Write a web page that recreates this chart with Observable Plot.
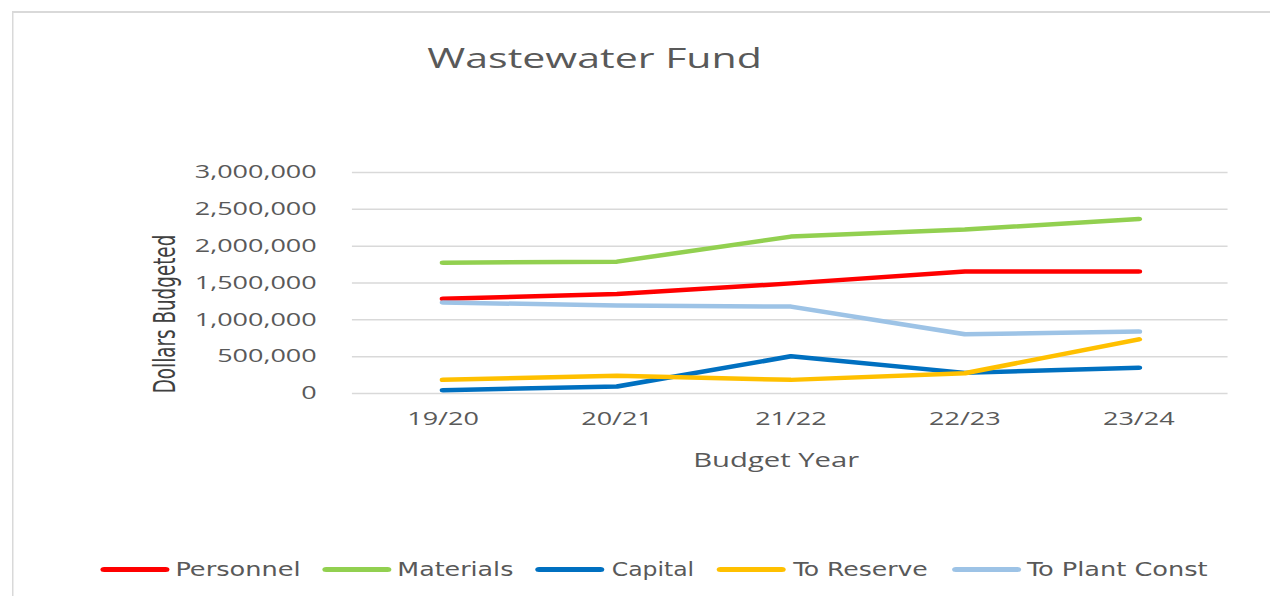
<!DOCTYPE html>
<html>
<head>
<meta charset="utf-8">
<script src="https://cdn.jsdelivr.net/npm/d3@7"></script>
<script src="https://cdn.jsdelivr.net/npm/@observablehq/plot@0.6"></script>
<style>
  html, body { margin: 0; padding: 0; background: #fff; overflow: hidden; }
  #stage {
    position: relative; width: 847px; height: 596px;
    transform: scale(1.4994, 1); transform-origin: 0 0;
    font-family: "Open Sans", sans-serif; color: #595959;
  }
  #frameTop { position: absolute; left: 8px; top: 11px; right: 0; height: 1.5px; background: #d9d9d9; }
  #frameLeft { position: absolute; left: 7.5px; top: 11px; bottom: 0; width: 1.3px; background: #d9d9d9; }
  #title { position: absolute; left: 285px; top: 44px; font-size: 27.4px; line-height: 1; white-space: nowrap; color: #595959; }
  #ylabel {
    position: absolute; left: 110px; top: 314px; white-space: nowrap;
    transform: translate(-50%, -50%) rotate(-90deg);
    font-family: "DejaVu Sans Condensed", "Liberation Sans Narrow", "Liberation Sans", sans-serif;
    font-size: 20.4px; line-height: 1; color: #404040;
  }
  #xlabel { position: absolute; left: 517.7px; top: 460px; transform: translate(-50%, -50%); font-size: 19.5px; line-height: 1; white-space: nowrap; color: #595959; }
  #chart { position: absolute; left: 0; top: 0; }
  #legend { position: absolute; left: 0; top: 0; width: 847px; height: 596px;
    font-family: "DejaVu Sans Condensed", "Liberation Sans Narrow", "Liberation Sans", sans-serif; font-size: 19px; color: #595959; }
  .sw { position: absolute; top: 566.5px; width: 46px; height: 5px; border-radius: 2.5px; }
  .lt { position: absolute; top: 569px; line-height: 1; white-space: nowrap; transform-origin: 0 50%; }
</style>
</head>
<body>
<div id="stage">
  <div id="frameTop"></div>
  <div id="frameLeft"></div>
  <div id="title"></div>
  <div id="ylabel"></div>
  <div id="xlabel"></div>
  <div id="chart"></div>
  <div id="legend"></div>
</div>
<script>
const titleText = "Wastewater Fund";
const yLabel = "Dollars Budgeted";
const xLabel = "Budget Year";
const years = ["19/20", "20/21", "21/22", "22/23", "23/24"];
const seriesNames = ["Personnel", "Materials", "Capital", "To Reserve", "To Plant Const"];
const seriesColors = ["#FF0000", "#92D050", "#0070C0", "#FFC000", "#9DC3E6"];
const personnel = [1285000, 1350000, 1495000, 1655000, 1655000];
const materials = [1775000, 1790000, 2130000, 2225000, 2370000];
const capital = [45000, 95000, 505000, 280000, 350000];
const toReserve = [185000, 240000, 185000, 275000, 735000];
const toPlantConst = [1235000, 1195000, 1180000, 805000, 840000];
const yTicks = [0, 500000, 1000000, 1500000, 2000000, 2500000, 3000000];

const seriesValues = [personnel, materials, capital, toReserve, toPlantConst];
const rows = [];
seriesNames.forEach((name, i) => {
  years.forEach((yr, j) => rows.push({series: name, year: yr, value: seriesValues[i][j]}));
});

document.getElementById("title").textContent = titleText;
document.getElementById("ylabel").textContent = yLabel;
document.getElementById("xlabel").textContent = xLabel;

const W = 847;
const chart = Plot.plot({
  width: W,
  height: 480,
  marginTop: 172,
  marginBottom: 87,
  marginLeft: 234.7,
  marginRight: W - 818.7,
  style: {fontFamily: "Open Sans, sans-serif", fontSize: "18px", color: "#595959", background: "transparent"},
  x: {type: "point", domain: years, padding: 0.5, label: null},
  y: {domain: [0, 3000000], label: null},
  color: {domain: seriesNames, range: seriesColors},
  marks: [
    Plot.gridY(yTicks, {stroke: "#d9d9d9", strokeOpacity: 1, strokeWidth: 1.5}),
    Plot.axisY({ticks: yTicks, tickSize: 0, tickPadding: 24, tickFormat: d3.format(","), label: null, fill: "#595959", fontSize: 18}),
    Plot.axisX({tickSize: 0, tickPadding: 19, label: null, fill: "#595959", fontSize: 18}),
    Plot.line(rows, {x: "year", y: "value", z: "series", stroke: "series", strokeWidth: 4.5, strokeLinecap: "round", strokeLinejoin: "round"})
  ]
});
document.getElementById("chart").appendChild(chart);

// legend layout (unscaled page px)
const swLeft = [67, 215, 357, 478, 635];
const txtLeft = [117, 265, 408, 529, 685];
const txtRight = [200, 342, 463, 619, 805];
const legend = document.getElementById("legend");
seriesNames.forEach((name, i) => {
  const sw = document.createElement("div");
  sw.className = "sw";
  sw.style.left = swLeft[i] + "px";
  sw.style.background = seriesColors[i];
  legend.appendChild(sw);
  const t = document.createElement("span");
  t.className = "lt";
  t.textContent = name;
  t.style.left = txtLeft[i] + "px";
  legend.appendChild(t);
  const w = t.offsetWidth;
  const target = txtRight[i] - txtLeft[i];
  t.style.transform = `translateY(-50%) scaleX(${target / w})`;
});
</script>
</body>
</html>
